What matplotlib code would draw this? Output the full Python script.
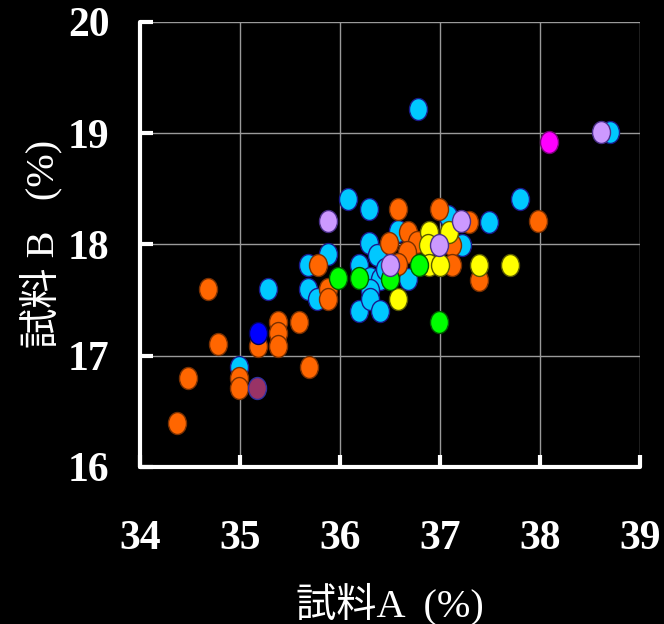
import numpy as np
import matplotlib
matplotlib.use("Agg")
import matplotlib.pyplot as plt
from matplotlib.path import Path
from matplotlib.transforms import Affine2D

# 試料A / 試料B (%) per group
cyan_x = [35.28, 34.99, 35.68, 35.68, 35.77, 36.19, 36.08, 36.29, 37.80, 37.49,
          37.08, 36.58, 36.29, 37.22, 36.37, 36.19, 35.88, 36.30, 36.40, 36.68,
          36.30, 36.30, 36.40, 36.78, 38.70, 36.45]
cyan_y = [17.60, 16.90, 17.81, 17.60, 17.51, 17.40, 18.41, 18.32, 18.41, 18.20,
          18.25, 18.12, 18.01, 17.99, 17.90, 17.81, 17.91, 17.70, 17.69, 17.69,
          17.59, 17.51, 17.40, 19.22, 19.01, 17.78]

orange_x = [34.68, 35.38, 35.59, 35.18, 35.38, 35.38, 34.78, 34.99, 34.99, 35.69,
            34.48, 34.37, 35.78, 35.88, 35.88, 36.58, 36.99, 37.29, 36.68, 36.49,
            36.77, 36.67, 37.12, 36.58, 37.12, 37.39, 37.98]
orange_y = [17.60, 17.30, 17.30, 17.09, 17.20, 17.09, 17.10, 16.80, 16.71, 16.90,
            16.80, 16.39, 17.81, 17.60, 17.51, 18.32, 18.32, 18.20, 18.11, 18.01,
            18.02, 17.93, 17.99, 17.82, 17.81, 17.68, 18.21]

yellow_x = [36.89, 37.09, 36.88, 36.89, 37.00, 37.39, 37.70, 36.58]
yellow_y = [18.11, 18.11, 17.99, 17.81, 17.81, 17.81, 17.81, 17.51]

green_x = [35.98, 36.19, 36.50, 36.79, 36.99]
green_y = [17.70, 17.70, 17.69, 17.81, 17.30]

violet_x = [35.88, 37.21, 36.99, 36.50, 38.61]
violet_y = [18.21, 18.21, 17.99, 17.81, 19.01]

blue_x, blue_y = [35.18], [17.20]
magenta_x, magenta_y = [38.09], [18.92]
plum_x, plum_y = [35.17], [16.71]

x_ticks = [34, 35, 36, 37, 38, 39]
y_ticks = [16, 17, 18, 19, 20]

# slightly tall ellipse marker
ellipse = Path.unit_circle().transformed(Affine2D().scale(0.82, 1.0))

fig = plt.figure(figsize=(6.64, 6.24), dpi=100, facecolor="black")
ax = fig.add_axes([0.211, 0.252, 0.753, 0.713])
ax.set_facecolor("black")

groups = [
    (cyan_x, cyan_y, "#00C8FF", "#1a1a8c"),
    (orange_x, orange_y, "#FF6600", "#7a3000"),
    (yellow_x, yellow_y, "#FFFF00", "#5a5a00"),
    (green_x, green_y, "#00FF00", "#005a00"),
    (violet_x, violet_y, "#CC99FF", "#4b2f8a"),
    (blue_x, blue_y, "#0000FF", "#00005a"),
    (magenta_x, magenta_y, "#FF00FF", "#7a007a"),
    (plum_x, plum_y, "#993366", "#3030a0"),
]
for gx, gy, fc, ec in groups:
    ax.scatter(gx, gy, s=250, marker=ellipse, facecolor=fc, edgecolor=ec,
               linewidth=1.0, zorder=3)

ax.set_xlim(34, 39)
ax.set_ylim(16, 20)
ax.set_xticks(x_ticks)
ax.set_yticks(y_ticks)
ax.grid(True, color="#9a9a9a", linewidth=1.0, zorder=0)
ax.set_axisbelow(True)

for side in ["top", "right"]:
    ax.spines[side].set_visible(False)
for side in ["left", "bottom"]:
    ax.spines[side].set_color("white")
    ax.spines[side].set_linewidth(3)
    ax.spines[side].set_capstyle("round")

ax.tick_params(axis="both", direction="in", length=9, width=3, color="white")
ax.tick_params(axis="x", pad=38)
ax.tick_params(axis="y", pad=22)
for lab in ax.get_xticklabels() + ax.get_yticklabels():
    lab.set_fontfamily("Liberation Serif")
    lab.set_fontweight("bold")
    lab.set_fontsize(30)
    lab.set_color("white")

label_font = ["Liberation Serif", "Noto Sans CJK JP"]
ax.set_xlabel("試料A  (%)", fontsize=29, color="white",
              family=label_font, labelpad=18)
ax.set_ylabel("試料 B   (%)", fontsize=29, color="white",
              family=label_font, labelpad=4)

fig.savefig("out.png", dpi=100, facecolor="black")
